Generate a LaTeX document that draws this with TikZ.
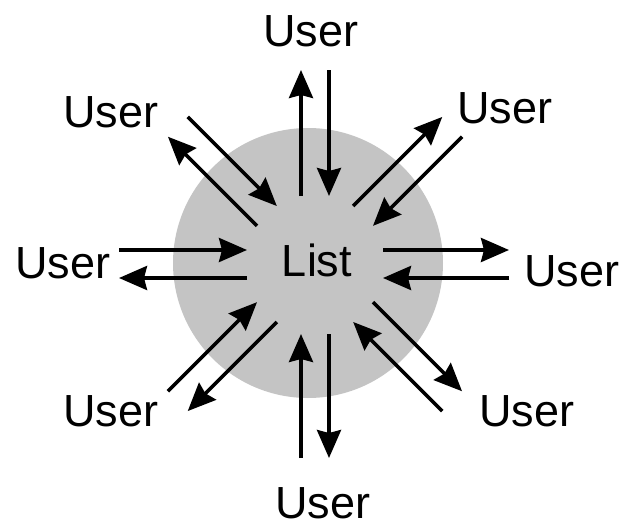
\documentclass[tikz,border=0pt]{standalone}
\usepackage{fontspec}
\setmainfont{Liberation Sans}
\usetikzlibrary{arrows.meta}
\definecolor{listgray}{RGB}{196,196,196}
\tikzset{
  label/.style={font=\fontsize{22.5}{27}\selectfont, inner sep=0pt},
  flow/.style={line width=1.8pt, -{Stealth[length=14pt, width=12pt, inset=1.5pt]}},
  lane/.style={transform canvas={shift={(#1:7pt)}}}
}
\begin{document}
\begin{tikzpicture}[x=0.5pt, y=-0.5pt]
    \useasboundingbox (0, 0) rectangle (623, 525) ;
    \fill[listgray] (308, 263) circle (67.5pt) ;
    \coordinate (hub) at (315, 264) ;
    \node[label] (list) at (317, 260) {List} ;
    \node[label] (u1) at (311, 31) {User} ;
    \node[label] (u2) at (505, 108) {User} ;
    \node[label] (u3) at (572, 271) {User} ;
    \node[label] (u4) at (527, 411) {User} ;
    \node[label] (u5) at (323, 503) {User} ;
    \node[label] (u6) at (111, 411) {User} ;
    \node[label] (u7) at (63, 263) {User} ;
    \node[label] (u8) at (111, 112) {User} ;
    \coordinate (n1) at ([shift={(90:34pt)}]hub) ;
    \coordinate (f1) at ([shift={(90:97pt)}]hub) ;
    \coordinate (n2) at ([shift={(45:34pt)}]hub) ;
    \coordinate (f2) at ([shift={(45:97pt)}]hub) ;
    \coordinate (n3) at ([shift={(0:34pt)}]hub) ;
    \coordinate (f3) at ([shift={(0:97pt)}]hub) ;
    \coordinate (n4) at ([shift={(-45:34pt)}]hub) ;
    \coordinate (f4) at ([shift={(-45:97pt)}]hub) ;
    \coordinate (n5) at ([shift={(-90:35pt)}]hub) ;
    \coordinate (f5) at ([shift={(-90:97pt)}]hub) ;
    \coordinate (n6) at ([shift={(-135:34pt)}]hub) ;
    \coordinate (f6) at ([shift={(-135:97pt)}]hub) ;
    \coordinate (n7) at ([shift={(180:34pt)}]hub) ;
    \coordinate (f7) at ([shift={(180:98pt)}]hub) ;
    \coordinate (n8) at ([shift={(135:34pt)}]hub) ;
    \coordinate (f8) at ([shift={(135:97pt)}]hub) ;
    \draw[flow, lane=180] (n1) -- (f1) ;
    \draw[flow, lane=0] (f1) -- (n1) ;
    \draw[flow, lane=135] (n2) -- (f2) ;
    \draw[flow, lane=-45] (f2) -- (n2) ;
    \draw[flow, lane=90] (n3) -- (f3) ;
    \draw[flow, lane=-90] (f3) -- (n3) ;
    \draw[flow, lane=45] (n4) -- (f4) ;
    \draw[flow, lane=-135] (f4) -- (n4) ;
    \draw[flow, lane=0] (n5) -- (f5) ;
    \draw[flow, lane=180] (f5) -- (n5) ;
    \draw[flow, lane=-45] (n6) -- (f6) ;
    \draw[flow, lane=135] (f6) -- (n6) ;
    \draw[flow, lane=-90] (n7) -- (f7) ;
    \draw[flow, lane=90] (f7) -- (n7) ;
    \draw[flow, lane=-135] (n8) -- (f8) ;
    \draw[flow, lane=45] (f8) -- (n8) ;
  \end{tikzpicture}
\end{document}
